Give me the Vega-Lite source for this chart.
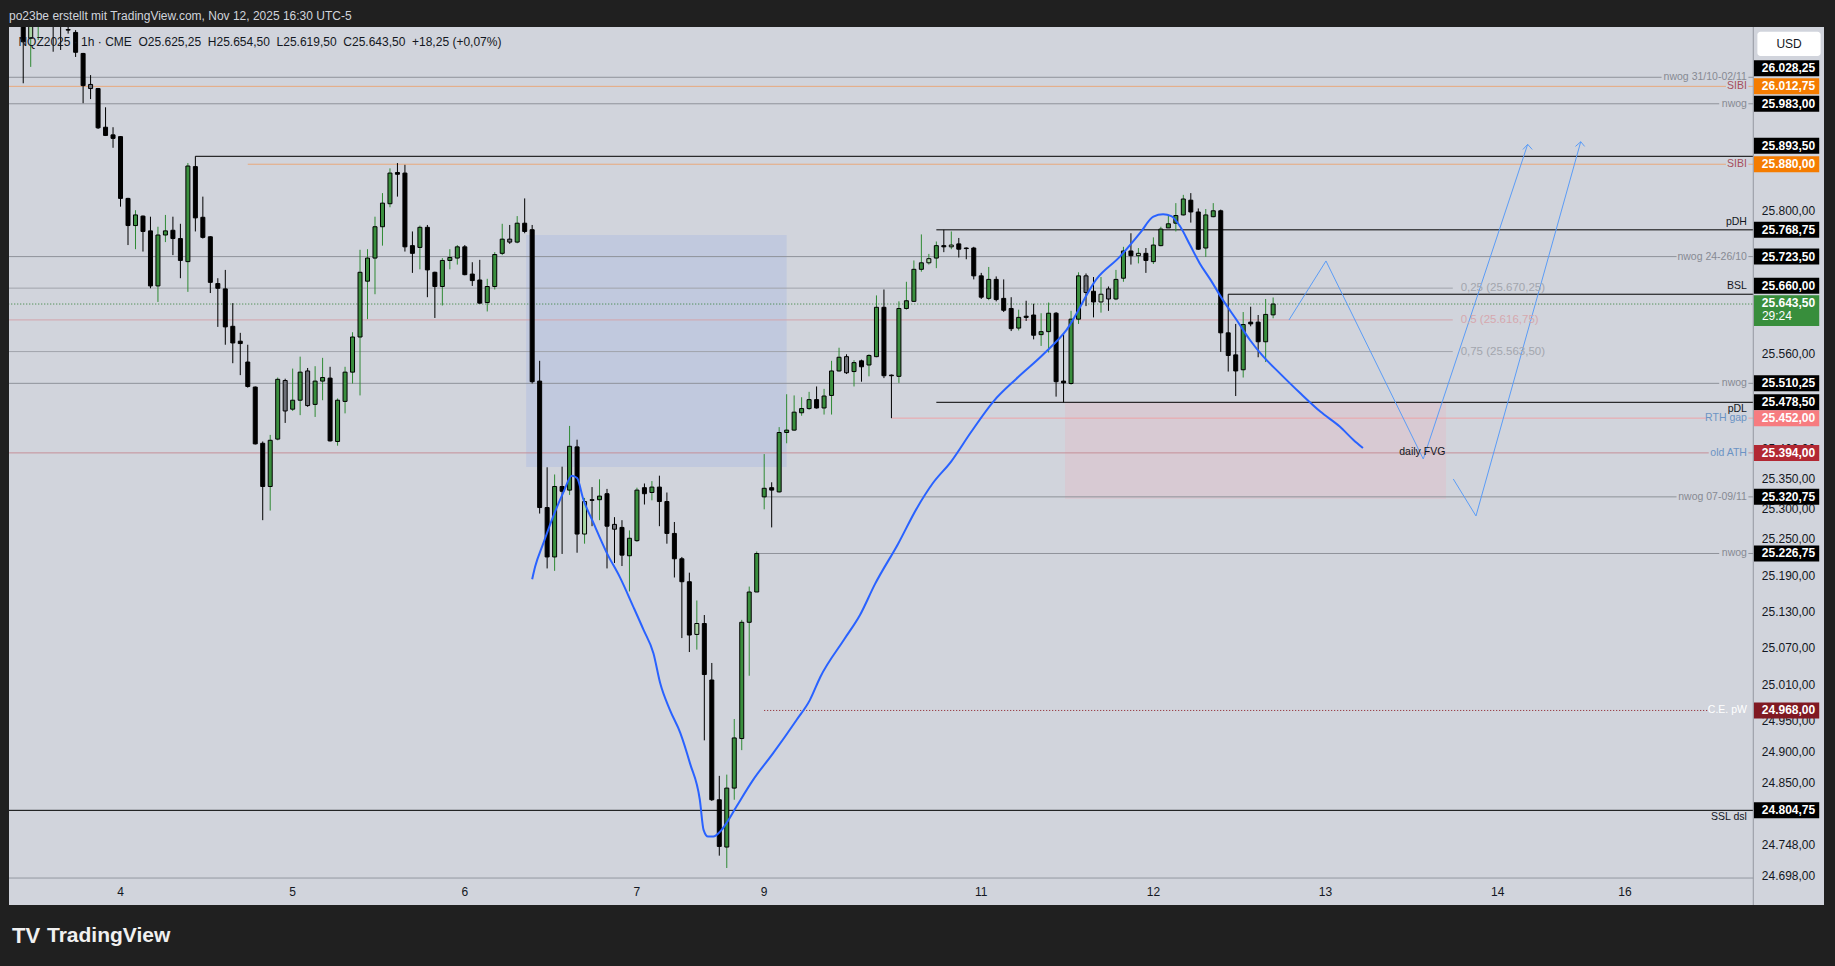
{
"$schema": "https://vega.github.io/schema/vega-lite/v6.json",
"width": 1815,
"height": 878,
"autosize": {"type": "none"},
"padding": {"left": 9, "top": 27, "right": 11, "bottom": 61},
"background": "#202020",
"config": {"view": {"stroke": null, "fill": "#d1d4dc"}, "font": "Liberation Sans", "scale": {"continuousPadding": 0}},
"title": {"text": "po23be erstellt mit TradingView.com, Nov 12, 2025 16:30 UTC-5", "anchor": "start", "frame": "group", "fontSize": 12, "fontWeight": "normal", "font": "Liberation Sans", "color": "#d1d4dc", "offset": 4},
"datasets": {
"candles": [
{"i":-13,"o":26126,"h":26140,"l":26018,"c":26089,"k":"d"},
{"i":-12,"o":26095,"h":26135,"l":26046,"c":26122,"k":"p"},
{"i":-11,"o":26125,"h":26145,"l":26092,"c":26135,"k":"u"},
{"i":-10,"o":26150,"h":26160,"l":26125,"c":26135,"k":"d"},
{"i":-9,"o":26160,"h":26170,"l":26072,"c":26128,"k":"d"},
{"i":-8,"o":26140,"h":26150,"l":26075,"c":26122,"k":"d"},
{"i":-7,"o":26110,"h":26116,"l":26103,"c":26109,"k":"d"},
{"i":-6,"o":26105,"h":26109,"l":26063,"c":26071,"k":"d"},
{"i":-5,"o":26069,"h":26070,"l":25984,"c":26014,"k":"d"},
{"i":-4,"o":26016,"h":26032,"l":25991,"c":26009,"k":"g"},
{"i":-3,"o":26009,"h":26010,"l":25940,"c":25942,"k":"d"},
{"i":-2,"o":25943,"h":25977,"l":25928,"c":25929,"k":"d"},
{"i":-1,"o":25930,"h":25943,"l":25908,"c":25924,"k":"d"},
{"i":0,"o":25927,"h":25928,"l":25808,"c":25822,"k":"d"},
{"i":1,"o":25822,"h":25823,"l":25743,"c":25776,"k":"d"},
{"i":2,"o":25776,"h":25802,"l":25736,"c":25794,"k":"u"},
{"i":3,"o":25792,"h":25793,"l":25732,"c":25766,"k":"d"},
{"i":4,"o":25767,"h":25791,"l":25670,"c":25674,"k":"d"},
{"i":5,"o":25674,"h":25774,"l":25647,"c":25760,"k":"u"},
{"i":6,"o":25760,"h":25794,"l":25748,"c":25767,"k":"u"},
{"i":7,"o":25768,"h":25791,"l":25726,"c":25754,"k":"d"},
{"i":8,"o":25754,"h":25779,"l":25687,"c":25717,"k":"d"},
{"i":9,"o":25715,"h":25882,"l":25664,"c":25877,"k":"u"},
{"i":10,"o":25876,"h":25893.5,"l":25766,"c":25789,"k":"d"},
{"i":11,"o":25790,"h":25825,"l":25754,"c":25756,"k":"d"},
{"i":12,"o":25757,"h":25758,"l":25662,"c":25680,"k":"d"},
{"i":13,"o":25678,"h":25687,"l":25605,"c":25670,"k":"d"},
{"i":14,"o":25669,"h":25701,"l":25575,"c":25605,"k":"d"},
{"i":15,"o":25606,"h":25645,"l":25544,"c":25578,"k":"d"},
{"i":16,"o":25581,"h":25595,"l":25524,"c":25577,"k":"d"},
{"i":17,"o":25546,"h":25575,"l":25503,"c":25505,"k":"d"},
{"i":18,"o":25504,"h":25505,"l":25408,"c":25409,"k":"d"},
{"i":19,"o":25410,"h":25413,"l":25282,"c":25338,"k":"d"},
{"i":20,"o":25338,"h":25424,"l":25298,"c":25415,"k":"u"},
{"i":21,"o":25417,"h":25520,"l":25415,"c":25517,"k":"u"},
{"i":22,"o":25515,"h":25518,"l":25444,"c":25464,"k":"g"},
{"i":23,"o":25467,"h":25535,"l":25464,"c":25482,"k":"u"},
{"i":24,"o":25482,"h":25555,"l":25457,"c":25529,"k":"u"},
{"i":25,"o":25531,"h":25536,"l":25471,"c":25473,"k":"g"},
{"i":26,"o":25475,"h":25539,"l":25454,"c":25514,"k":"u"},
{"i":27,"o":25514,"h":25553,"l":25482,"c":25520,"k":"u"},
{"i":28,"o":25519,"h":25538,"l":25413,"c":25414,"k":"d"},
{"i":29,"o":25413,"h":25485,"l":25406,"c":25482,"k":"u"},
{"i":30,"o":25480,"h":25538,"l":25460,"c":25529,"k":"u"},
{"i":31,"o":25529,"h":25596,"l":25510,"c":25588,"k":"u"},
{"i":32,"o":25588,"h":25735,"l":25490,"c":25697,"k":"u"},
{"i":33,"o":25682,"h":25736,"l":25618,"c":25721,"k":"u"},
{"i":34,"o":25721,"h":25791,"l":25660,"c":25774,"k":"u"},
{"i":35,"o":25774,"h":25831,"l":25742,"c":25814,"k":"u"},
{"i":36,"o":25813,"h":25873,"l":25807,"c":25865,"k":"u"},
{"i":37,"o":25866,"h":25882,"l":25825,"c":25863,"k":"d"},
{"i":38,"o":25865,"h":25879,"l":25732,"c":25740,"k":"d"},
{"i":39,"o":25742,"h":25766,"l":25696,"c":25729,"k":"d"},
{"i":40,"o":25739,"h":25776,"l":25702,"c":25773,"k":"u"},
{"i":41,"o":25773,"h":25777,"l":25655,"c":25701,"k":"d"},
{"i":42,"o":25697,"h":25698,"l":25620,"c":25673,"k":"d"},
{"i":43,"o":25673,"h":25721,"l":25641,"c":25717,"k":"u"},
{"i":44,"o":25717,"h":25736,"l":25702,"c":25722,"k":"u"},
{"i":45,"o":25721,"h":25743,"l":25710,"c":25740,"k":"u"},
{"i":46,"o":25740,"h":25743,"l":25692,"c":25693,"k":"d"},
{"i":47,"o":25694,"h":25714,"l":25674,"c":25683,"k":"d"},
{"i":48,"o":25684,"h":25718,"l":25644,"c":25645,"k":"d"},
{"i":49,"o":25646,"h":25686,"l":25631,"c":25673,"k":"u"},
{"i":50,"o":25673,"h":25731,"l":25668,"c":25727,"k":"u"},
{"i":51,"o":25729,"h":25779,"l":25726,"c":25753,"k":"u"},
{"i":52,"o":25753,"h":25777,"l":25745,"c":25748,"k":"g"},
{"i":53,"o":25748,"h":25792,"l":25746,"c":25780,"k":"u"},
{"i":54,"o":25780,"h":25822,"l":25763,"c":25766,"k":"d"},
{"i":55,"o":25769,"h":25777,"l":25510,"c":25513,"k":"d"},
{"i":56,"o":25514,"h":25548,"l":25293,"c":25303,"k":"d"},
{"i":57,"o":25303,"h":25370,"l":25202,"c":25221,"k":"d"},
{"i":58,"o":25221,"h":25358,"l":25198,"c":25338,"k":"u"},
{"i":59,"o":25338,"h":25371,"l":25226,"c":25330,"k":"d"},
{"i":60,"o":25332,"h":25439,"l":25324,"c":25405,"k":"u"},
{"i":61,"o":25404,"h":25416,"l":25228,"c":25259,"k":"d"},
{"i":62,"o":25259,"h":25319,"l":25243,"c":25313,"k":"p"},
{"i":63,"o":25316,"h":25337,"l":25272,"c":25315,"k":"d"},
{"i":64,"o":25316,"h":25350,"l":25282,"c":25322,"k":"u"},
{"i":65,"o":25326,"h":25334,"l":25202,"c":25272,"k":"d"},
{"i":66,"o":25275,"h":25287,"l":25211,"c":25267,"k":"g"},
{"i":67,"o":25270,"h":25282,"l":25206,"c":25224,"k":"d"},
{"i":68,"o":25223,"h":25265,"l":25164,"c":25252,"k":"u"},
{"i":69,"o":25248,"h":25336,"l":25246,"c":25332,"k":"u"},
{"i":70,"o":25336,"h":25343,"l":25308,"c":25326,"k":"d"},
{"i":71,"o":25328,"h":25347,"l":25315,"c":25337,"k":"u"},
{"i":72,"o":25337,"h":25356,"l":25272,"c":25313,"k":"d"},
{"i":73,"o":25313,"h":25328,"l":25243,"c":25260,"k":"d"},
{"i":74,"o":25260,"h":25279,"l":25187,"c":25218,"k":"d"},
{"i":75,"o":25218,"h":25221,"l":25087,"c":25180,"k":"d"},
{"i":76,"o":25180,"h":25195,"l":25064,"c":25092,"k":"d"},
{"i":77,"o":25093,"h":25149,"l":25068,"c":25111,"k":"p"},
{"i":78,"o":25111,"h":25125,"l":24919,"c":25027,"k":"d"},
{"i":79,"o":25018,"h":25046,"l":24820,"c":24822,"k":"d"},
{"i":80,"o":24822,"h":24861,"l":24731,"c":24746,"k":"d"},
{"i":81,"o":24745,"h":24863,"l":24711,"c":24841,"k":"u"},
{"i":82,"o":24841,"h":24954,"l":24822,"c":24923,"k":"u"},
{"i":83,"o":24922,"h":25117,"l":24903,"c":25113,"k":"u"},
{"i":84,"o":25113,"h":25172,"l":25025,"c":25163,"k":"u"},
{"i":85,"o":25163,"h":25230,"l":25163,"c":25226.75,"k":"u"},
{"i":86,"o":25320.75,"h":25392,"l":25300,"c":25335,"k":"u"},
{"i":87,"o":25336,"h":25345,"l":25270,"c":25332,"k":"d"},
{"i":88,"o":25329,"h":25437,"l":25328,"c":25428,"k":"u"},
{"i":89,"o":25428,"h":25492,"l":25410,"c":25432,"k":"u"},
{"i":90,"o":25432,"h":25490,"l":25431,"c":25462,"k":"u"},
{"i":91,"o":25461,"h":25487,"l":25456,"c":25468,"k":"u"},
{"i":92,"o":25468,"h":25496,"l":25466,"c":25483,"k":"u"},
{"i":93,"o":25483,"h":25505,"l":25468,"c":25469,"k":"d"},
{"i":94,"o":25469,"h":25501,"l":25458,"c":25489,"k":"u"},
{"i":95,"o":25490,"h":25548,"l":25458,"c":25531,"k":"u"},
{"i":96,"o":25531,"h":25570,"l":25530,"c":25554,"k":"u"},
{"i":97,"o":25555,"h":25559,"l":25526,"c":25528,"k":"g"},
{"i":98,"o":25530,"h":25549,"l":25505,"c":25545,"k":"u"},
{"i":99,"o":25548,"h":25550,"l":25513,"c":25538,"k":"d"},
{"i":100,"o":25541,"h":25559,"l":25522,"c":25557,"k":"u"},
{"i":101,"o":25555,"h":25658,"l":25554,"c":25638,"k":"u"},
{"i":102,"o":25638,"h":25668,"l":25519,"c":25523,"k":"d"},
{"i":103,"o":25524,"h":25525,"l":25452,"c":25523,"k":"d"},
{"i":104,"o":25522,"h":25648,"l":25511,"c":25636,"k":"u"},
{"i":105,"o":25636,"h":25681,"l":25634,"c":25649,"k":"u"},
{"i":106,"o":25648,"h":25717,"l":25647,"c":25702,"k":"u"},
{"i":107,"o":25702,"h":25761,"l":25698,"c":25713,"k":"u"},
{"i":108,"o":25713,"h":25728,"l":25710,"c":25720,"k":"p"},
{"i":109,"o":25721,"h":25749,"l":25704,"c":25742,"k":"u"},
{"i":110,"o":25742,"h":25768.75,"l":25731,"c":25740,"k":"d"},
{"i":111,"o":25740,"h":25766,"l":25736,"c":25743,"k":"p"},
{"i":112,"o":25745,"h":25755,"l":25722,"c":25736,"k":"d"},
{"i":113,"o":25738,"h":25739,"l":25719,"c":25737,"k":"d"},
{"i":114,"o":25738,"h":25740,"l":25685,"c":25691,"k":"d"},
{"i":115,"o":25691,"h":25696,"l":25652,"c":25655,"k":"d"},
{"i":116,"o":25653,"h":25706,"l":25650,"c":25685,"k":"u"},
{"i":117,"o":25685,"h":25690,"l":25648,"c":25651,"k":"d"},
{"i":118,"o":25653,"h":25685,"l":25630,"c":25633,"k":"d"},
{"i":119,"o":25636,"h":25655,"l":25598,"c":25602,"k":"d"},
{"i":120,"o":25603,"h":25634,"l":25599,"c":25621,"k":"u"},
{"i":121,"o":25623,"h":25649,"l":25615,"c":25621,"k":"d"},
{"i":122,"o":25625,"h":25644,"l":25584,"c":25591,"k":"d"},
{"i":123,"o":25592,"h":25628,"l":25573,"c":25597,"k":"u"},
{"i":124,"o":25597,"h":25646,"l":25562,"c":25628,"k":"u"},
{"i":125,"o":25628,"h":25630,"l":25488,"c":25513,"k":"d"},
{"i":126,"o":25514,"h":25593,"l":25478.5,"c":25511,"k":"d"},
{"i":127,"o":25510,"h":25632,"l":25508,"c":25618,"k":"u"},
{"i":128,"o":25618,"h":25697,"l":25610,"c":25691,"k":"u"},
{"i":129,"o":25691,"h":25695,"l":25640,"c":25663,"k":"g"},
{"i":130,"o":25665,"h":25689,"l":25621,"c":25647,"k":"d"},
{"i":131,"o":25647,"h":25689,"l":25629,"c":25660,"k":"p"},
{"i":132,"o":25669,"h":25673,"l":25632,"c":25652,"k":"g"},
{"i":133,"o":25652,"h":25701,"l":25650,"c":25685,"k":"u"},
{"i":134,"o":25687,"h":25740,"l":25681,"c":25733,"k":"u"},
{"i":135,"o":25733,"h":25763,"l":25710,"c":25725,"k":"d"},
{"i":136,"o":25725,"h":25738,"l":25712,"c":25729,"k":"p"},
{"i":137,"o":25729,"h":25738,"l":25696,"c":25717,"k":"d"},
{"i":138,"o":25715,"h":25756,"l":25711,"c":25743,"k":"u"},
{"i":139,"o":25742,"h":25774,"l":25741,"c":25770,"k":"u"},
{"i":140,"o":25772,"h":25794,"l":25772,"c":25779,"k":"u"},
{"i":141,"o":25780,"h":25814,"l":25766,"c":25793,"k":"u"},
{"i":142,"o":25794,"h":25828,"l":25793,"c":25821,"k":"u"},
{"i":143,"o":25819,"h":25831,"l":25781,"c":25799,"k":"d"},
{"i":144,"o":25799,"h":25805,"l":25735,"c":25736,"k":"d"},
{"i":145,"o":25738,"h":25804,"l":25723,"c":25794,"k":"u"},
{"i":146,"o":25791,"h":25814,"l":25790,"c":25801,"k":"u"},
{"i":147,"o":25801,"h":25803,"l":25563,"c":25595,"k":"d"},
{"i":148,"o":25595,"h":25660,"l":25530,"c":25557,"k":"d"},
{"i":149,"o":25558,"h":25610,"l":25489,"c":25531,"k":"d"},
{"i":150,"o":25533,"h":25630,"l":25520,"c":25609,"k":"u"},
{"i":151,"o":25613,"h":25639,"l":25606,"c":25610,"k":"d"},
{"i":152,"o":25613,"h":25625,"l":25554,"c":25580,"k":"d"},
{"i":153,"o":25580,"h":25652,"l":25546,"c":25626,"k":"u"},
{"i":154,"o":25625.25,"h":25654.5,"l":25619.5,"c":25643.5,"k":"u"}
],
"ma": [
{"i":55.0,"p":25184},{"i":55.4,"p":25205},{"i":56.5,"p":25244},{"i":57.8,"p":25288},{"i":59.2,"p":25329},{"i":60.3,"p":25356},{"i":61.0,"p":25352},{"i":61.8,"p":25318},{"i":63.2,"p":25277},{"i":65.0,"p":25227},{"i":66.7,"p":25188},{"i":68.5,"p":25139},{"i":69.9,"p":25100},{"i":71.2,"p":25062},{"i":72.1,"p":25013},{"i":73.4,"p":24969},{"i":74.8,"p":24931},{"i":76.1,"p":24881},{"i":77.4,"p":24822},{"i":77.9,"p":24773},{"i":78.5,"p":24762},{"i":79.2,"p":24762},{"i":80.1,"p":24770},{"i":80.8,"p":24781},{"i":82.3,"p":24811},{"i":84.5,"p":24854},{"i":87.2,"p":24898},{"i":90.3,"p":24952},{"i":92.1,"p":24985},{"i":93.5,"p":25023},{"i":96.7,"p":25085},{"i":98.8,"p":25125},{"i":100.8,"p":25176},{"i":103.9,"p":25243},{"i":106.4,"p":25302},{"i":108.5,"p":25343},{"i":111.0,"p":25380},{"i":113.6,"p":25428},{"i":116.7,"p":25481},{"i":119.7,"p":25518},{"i":123.3,"p":25559},{"i":126.4,"p":25600},{"i":130.5,"p":25687},{"i":133.5,"p":25723},{"i":136.2,"p":25763},{"i":138.0,"p":25791},{"i":139.3,"p":25795},{"i":140.4,"p":25792},{"i":141.6,"p":25774},{"i":142.9,"p":25743},{"i":144.2,"p":25712},{"i":145.6,"p":25685},{"i":147.3,"p":25650},{"i":149.1,"p":25617},{"i":150.9,"p":25583},{"i":152.7,"p":25555},{"i":154.9,"p":25527},{"i":157.6,"p":25494},{"i":160.3,"p":25463},{"i":162.9,"p":25438},{"i":164.7,"p":25416},{"i":166.0,"p":25402}
],
"levels": [
{"p":26028.25,"a":-15,"b":205.9,"s":"gray"},
{"p":26012.75,"a":-15,"b":214.5,"s":"orange"},
{"p":25983,"a":-15,"b":213.6,"s":"gray"},
{"p":25893.5,"a":10,"b":218.15,"s":"black"},
{"p":25880,"a":17,"b":214.5,"s":"orange"},
{"p":25768.75,"a":109,"b":218.15,"s":"black"},
{"p":25723.5,"a":-15,"b":207.9,"s":"gray"},
{"p":25670.25,"a":-15,"b":178,"s":"fibg"},
{"p":25660,"a":148,"b":218.15,"s":"black"},
{"p":25616.75,"a":-15,"b":178,"s":"fibr"},
{"p":25563.5,"a":-15,"b":178,"s":"fibg"},
{"p":25510.25,"a":-15,"b":213.6,"s":"gray"},
{"p":25478.5,"a":109,"b":218.15,"s":"black"},
{"p":25452,"a":103,"b":211.9,"s":"rth"},
{"p":25394,"a":-15,"b":212.2,"s":"ath"},
{"p":25320.75,"a":86,"b":207.9,"s":"gray"},
{"p":25226.75,"a":85,"b":213.6,"s":"gray"},
{"p":24804.75,"a":-15,"b":218.15,"s":"black"}
],
"tails": [
{"p":26028.25,"s":"gray"},{"p":26012.75,"s":"orange"},{"p":25983,"s":"gray"},{"p":25880,"s":"orange"},{"p":25723.5,"s":"gray"},{"p":25510.25,"s":"gray"},{"p":25452,"s":"rth"},{"p":25394,"s":"ath"},{"p":25320.75,"s":"gray"},{"p":25226.75,"s":"gray"}
],
"dotted": [
{"p":25643.5,"a":-15,"b":218.15,"s":"cur"},
{"p":24968,"a":86,"b":212.0,"s":"ce"}
],
"notes": [
{"p":26028.25,"t":"nwog 31/10-02/11","r":"n","v":"m"},
{"p":26012.75,"t":"SIBI","r":"s","v":"m"},
{"p":25983,"t":"nwog","r":"n","v":"m"},
{"p":25880,"t":"SIBI","r":"s","v":"m"},
{"p":25768.75,"t":"pDH","r":"b","v":"u"},
{"p":25723.5,"t":"nwog 24-26/10","r":"n","v":"m"},
{"p":25660,"t":"BSL","r":"b","v":"u"},
{"p":25510.25,"t":"nwog","r":"n","v":"m"},
{"p":25478.5,"t":"pDL","r":"b","v":"d"},
{"p":25452,"t":"RTH gap","r":"t","v":"m"},
{"p":25394,"t":"old ATH","r":"t","v":"m"},
{"p":25320.75,"t":"nwog 07-09/11","r":"n","v":"m"},
{"p":25226.75,"t":"nwog","r":"n","v":"m"},
{"p":24968,"t":"C.E. pW","r":"w","v":"m"},
{"p":24804.75,"t":"SSL dsl","r":"b","v":"d"}
],
"boxes": [
{"p":26028.25,"at":26043.6,"t":"26.028,25","r":"blk"},
{"p":26012.75,"at":26012.75,"t":"26.012,75","r":"org"},
{"p":25983,"at":25983,"t":"25.983,00","r":"blk"},
{"p":25893.5,"at":25911.5,"t":"25.893,50","r":"blk"},
{"p":25880,"at":25880,"t":"25.880,00","r":"org"},
{"p":25768.75,"at":25768.75,"t":"25.768,75","r":"blk"},
{"p":25723.5,"at":25723.5,"t":"25.723,50","r":"blk"},
{"p":25660,"at":25674.4,"t":"25.660,00","r":"blk"},
{"p":25510.25,"at":25510.25,"t":"25.510,25","r":"blk"},
{"p":25478.5,"at":25478.5,"t":"25.478,50","r":"blk"},
{"p":25452,"at":25452,"t":"25.452,00","r":"pink"},
{"p":25394,"at":25394,"t":"25.394,00","r":"ath"},
{"p":25320.75,"at":25320.75,"t":"25.320,75","r":"blk"},
{"p":25226.75,"at":25226.75,"t":"25.226,75","r":"blk"},
{"p":24968,"at":24968,"t":"24.968,00","r":"ce"},
{"p":24804.75,"at":24804.75,"t":"24.804,75","r":"blk"}
],
"ticks": [
{"p":25800,"t":"25.800,00"},{"p":25560,"t":"25.560,00"},{"p":25400,"t":"25.400,00"},{"p":25350,"t":"25.350,00"},{"p":25300,"t":"25.300,00"},{"p":25250,"t":"25.250,00"},{"p":25190,"t":"25.190,00"},{"p":25130,"t":"25.130,00"},{"p":25070,"t":"25.070,00"},{"p":25010,"t":"25.010,00"},{"p":24950,"t":"24.950,00"},{"p":24900,"t":"24.900,00"},{"p":24850,"t":"24.850,00"},{"p":24748,"t":"24.748,00"},{"p":24698,"t":"24.698,00"}
],
"days": [
{"i":0,"t":"4"},{"i":23,"t":"5"},{"i":46,"t":"6"},{"i":69,"t":"7"},{"i":86,"t":"9"},{"i":115,"t":"11"},{"i":138,"t":"12"},{"i":161,"t":"13"},{"i":184,"t":"14"},{"i":201,"t":"16"}
],
"fib": [
{"p":25670.25,"t":"0,25 (25.670,25)","r":"g"},
{"p":25616.75,"t":"0,5 (25.616,75)","r":"r"},
{"p":25563.5,"t":"0,75 (25.563,50)","r":"g"}
],
"zones": [
{"a":54.2,"b":89.0,"top":25760,"bot":25370.3,"z":"ob"},
{"a":126.2,"b":177.1,"top":25478.5,"bot":25317,"z":"fvg"}
],
"proj": [
{"i":156.12,"p":25616.7,"g":"z1","o":0},{"i":161.06,"p":25716.1,"g":"z1","o":1},{"i":174.06,"p":25383.8,"g":"z1","o":2},{"i":188.01,"p":25913.9,"g":"z1","o":3},
{"i":178.07,"p":25350.5,"g":"z2","o":0},{"i":181.1,"p":25289.0,"g":"z2","o":1},{"i":195.1,"p":25918.3,"g":"z2","o":2},
{"i":187.37,"p":25905.1,"g":"a1","o":0},{"i":188.01,"p":25913.9,"g":"a1","o":1},{"i":188.62,"p":25905.1,"g":"a1","o":2},
{"i":194.39,"p":25910.3,"g":"a2","o":0},{"i":195.1,"p":25918.3,"g":"a2","o":1},{"i":195.62,"p":25910.3,"g":"a2","o":2}
],
"one": [{"n": 1}]
},
"layer": [
{"data": {"name": "zones"}, "mark": {"type": "rect"},
 "encoding": {
  "x": {"field": "a", "type": "quantitative", "scale": {"domain": [-14.9, 227.6], "nice": false, "zero": false, "padding": 0}, "axis": null},
  "x2": {"field": "b"},
  "y": {"field": "top", "type": "quantitative", "scale": {"type": "log", "domain": [24651.0, 26114.35], "nice": false, "zero": false, "padding": 0}, "axis": null},
  "y2": {"field": "bot"},
  "fill": {"field": "z", "type": "nominal", "scale": {"domain": ["ob", "fvg"], "range": ["#c1c9de", "#d8cad3"]}, "legend": null}}},
{"data": {"name": "levels"}, "mark": {"type": "rule", "strokeWidth": 1, "clip": true},
 "encoding": {
  "x": {"field": "a", "type": "quantitative", "scale": {"domain": [-14.9, 227.6], "nice": false, "zero": false, "padding": 0}, "axis": null},
  "x2": {"field": "b"},
  "y": {"field": "p", "type": "quantitative", "scale": {"type": "log", "domain": [24651.0, 26114.35], "nice": false, "zero": false, "padding": 0}, "axis": null},
  "color": {"field": "s", "type": "nominal", "scale": {"domain": ["gray", "black", "orange", "rth", "ath", "fibg", "fibr"], "range": ["#8f929a", "#000000", "#e8a87c", "#eca3a9", "#c58f98", "#a0a3ab", "#d3a5ab"]}, "legend": null}}},
{"data": {"name": "tails"}, "mark": {"type": "rule", "strokeWidth": 1},
 "encoding": {
  "x": {"datum": 217.5, "type": "quantitative", "axis": null},
  "x2": {"datum": 218.15},
  "y": {"field": "p", "type": "quantitative", "axis": null},
  "color": {"field": "s", "type": "nominal", "scale": {"domain": ["gray", "orange", "rth", "ath"], "range": ["#8f929a", "#e8a87c", "#eca3a9", "#c58f98"]}, "legend": null}}},
{"data": {"name": "dotted"}, "mark": {"type": "rule", "strokeWidth": 1, "strokeDash": [1, 2], "clip": true},
 "encoding": {
  "x": {"field": "a", "type": "quantitative", "scale": {"domain": [-14.9, 227.6], "nice": false, "zero": false, "padding": 0}, "axis": null},
  "x2": {"field": "b"},
  "y": {"field": "p", "type": "quantitative", "scale": {"type": "log", "domain": [24651.0, 26114.35], "nice": false, "zero": false, "padding": 0}, "axis": null},
  "color": {"field": "s", "type": "nominal", "scale": {"domain": ["cur", "ce"], "range": ["#2e7d32", "#8b1a22"]}, "legend": null}}},
{"data": {"name": "candles"}, "mark": {"type": "rule", "strokeWidth": 1, "clip": true},
 "encoding": {
  "x": {"field": "i", "type": "quantitative", "scale": {"domain": [-14.9, 227.6], "nice": false, "zero": false, "padding": 0}, "axis": null},
  "y": {"field": "l", "type": "quantitative", "scale": {"type": "log", "domain": [24651.0, 26114.35], "nice": false, "zero": false, "padding": 0}, "axis": null},
  "y2": {"field": "h"},
  "color": {"field": "k", "type": "nominal", "scale": {"domain": ["u", "d", "g", "p"], "range": ["#2f8a34", "#000000", "#000000", "#2f8a34"]}, "legend": null}}},
{"data": {"name": "candles"}, "mark": {"type": "bar", "size": 4, "stroke": "#000000", "strokeWidth": 1, "clip": true},
 "encoding": {
  "x": {"field": "i", "type": "quantitative", "scale": {"domain": [-14.9, 227.6], "nice": false, "zero": false, "padding": 0}, "axis": null},
  "y": {"field": "o", "type": "quantitative", "scale": {"type": "log", "domain": [24651.0, 26114.35], "nice": false, "zero": false, "padding": 0}, "axis": null},
  "y2": {"field": "c"},
  "fill": {"field": "k", "type": "nominal", "scale": {"domain": ["u", "d", "g", "p"], "range": ["#3a8f3e", "#000000", "#6e7078", "#a8d5a2"]}, "legend": null}}},
{"data": {"name": "ma"}, "mark": {"type": "line", "color": "#2962ff", "strokeWidth": 2, "interpolate": "monotone"},
 "encoding": {
  "x": {"field": "i", "type": "quantitative", "scale": {"domain": [-14.9, 227.6], "nice": false, "zero": false, "padding": 0}, "axis": null},
  "y": {"field": "p", "type": "quantitative", "scale": {"type": "log", "domain": [24651.0, 26114.35], "nice": false, "zero": false, "padding": 0}, "axis": null}}},
{"data": {"name": "proj"}, "mark": {"type": "line", "color": "#5b9cf6", "strokeWidth": 1},
 "encoding": {
  "x": {"field": "i", "type": "quantitative", "axis": null},
  "y": {"field": "p", "type": "quantitative", "axis": null},
  "detail": {"field": "g", "type": "nominal"},
  "order": {"field": "o", "type": "quantitative"}}},
{"data": {"name": "fib"}, "mark": {"type": "text", "align": "left", "baseline": "middle", "fontSize": 11.5, "font": "Liberation Sans"},
 "encoding": {
  "x": {"datum": 179.05, "type": "quantitative", "axis": null},
  "y": {"field": "p", "type": "quantitative", "axis": null},
  "text": {"field": "t", "type": "nominal"},
  "color": {"field": "r", "type": "nominal", "scale": {"domain": ["g", "r"], "range": ["#a3a6ae", "#d6a8ae"]}, "legend": null}}},
{"data": {"name": "one"}, "mark": {"type": "text", "align": "left", "baseline": "middle", "fontSize": 10.5, "font": "Liberation Sans", "color": "#131722", "text": "daily FVG"},
 "encoding": {"x": {"datum": 170.85, "type": "quantitative", "axis": null}, "y": {"datum": 25396, "type": "quantitative", "axis": null}}},
{"data": {"name": "one"}, "mark": {"type": "text", "align": "left", "baseline": "middle", "fontSize": 12, "font": "Liberation Sans", "color": "#131722", "text": "NQZ2025 · 1h · CME\u00a0\u00a0O25.625,25\u00a0\u00a0H25.654,50\u00a0\u00a0L25.619,50\u00a0\u00a0C25.643,50\u00a0\u00a0+18,25 (+0,07%)"},
 "encoding": {"x": {"datum": -13.64, "type": "quantitative", "axis": null}, "y": {"datum": 26089.1, "type": "quantitative", "axis": null}}},
{"data": {"name": "notes"}, "transform": [{"filter": "datum.v == 'm'"}], "mark": {"type": "text", "align": "right", "baseline": "middle", "fontSize": 10.5, "font": "Liberation Sans"},
 "encoding": {
  "x": {"datum": 217.3, "type": "quantitative", "axis": null},
  "y": {"field": "p", "type": "quantitative", "axis": null},
  "text": {"field": "t", "type": "nominal"},
  "color": {"field": "r", "type": "nominal", "scale": {"domain": ["n", "s", "b", "t", "w"], "range": ["#878a93", "#a64d5b", "#131722", "#6b93c4", "#ffffff"]}, "legend": null}}},
{"data": {"name": "notes"}, "transform": [{"filter": "datum.v == 'u'"}], "mark": {"type": "text", "align": "right", "baseline": "alphabetic", "dy": -5, "fontSize": 10.5, "font": "Liberation Sans", "color": "#131722"},
 "encoding": {
  "x": {"datum": 217.3, "type": "quantitative", "axis": null},
  "y": {"field": "p", "type": "quantitative", "axis": null},
  "text": {"field": "t", "type": "nominal"}}},
{"data": {"name": "notes"}, "transform": [{"filter": "datum.v == 'd'"}], "mark": {"type": "text", "align": "right", "baseline": "alphabetic", "dy": 10, "fontSize": 10.5, "font": "Liberation Sans", "color": "#131722"},
 "encoding": {
  "x": {"datum": 217.3, "type": "quantitative", "axis": null},
  "y": {"field": "p", "type": "quantitative", "axis": null},
  "text": {"field": "t", "type": "nominal"}}},
{"data": {"name": "one"}, "mark": {"type": "rule", "color": "#9598a1", "strokeWidth": 1},
 "encoding": {"x": {"datum": 218.15, "type": "quantitative", "axis": null}, "y": {"datum": 24651.0, "type": "quantitative", "axis": null}, "y2": {"datum": 26114.35}}},
{"data": {"name": "one"}, "mark": {"type": "rule", "color": "#9598a1", "strokeWidth": 1},
 "encoding": {"x": {"datum": -14.9, "type": "quantitative", "axis": null}, "x2": {"datum": 218.15}, "y": {"datum": 24694.7, "type": "quantitative", "axis": null}}},
{"data": {"name": "ticks"}, "mark": {"type": "text", "align": "center", "baseline": "middle", "fontSize": 12, "font": "Liberation Sans", "color": "#131722"},
 "encoding": {
  "x": {"datum": 222.86, "type": "quantitative", "axis": null},
  "y": {"field": "p", "type": "quantitative", "axis": null},
  "text": {"field": "t", "type": "nominal"}}},
{"data": {"name": "boxes"}, "mark": {"type": "bar", "orient": "horizontal", "size": 16},
 "encoding": {
  "x": {"datum": 218.24, "type": "quantitative", "axis": null},
  "x2": {"datum": 226.96},
  "y": {"field": "at", "type": "quantitative", "axis": null},
  "fill": {"field": "r", "type": "nominal", "scale": {"domain": ["blk", "org", "pink", "ath", "ce"], "range": ["#000000", "#f57c00", "#f77c80", "#b22833", "#801922"]}, "legend": null}}},
{"data": {"name": "boxes"}, "mark": {"type": "text", "align": "center", "baseline": "middle", "fontSize": 12, "fontWeight": "bold", "font": "Liberation Sans", "color": "#ffffff"},
 "encoding": {
  "x": {"datum": 222.86, "type": "quantitative", "axis": null},
  "y": {"field": "at", "type": "quantitative", "axis": null},
  "text": {"field": "t", "type": "nominal"}}},
{"data": {"name": "one"}, "mark": {"type": "rect", "color": "#388e3c"},
 "encoding": {"x": {"datum": 218.24, "type": "quantitative", "axis": null}, "x2": {"datum": 226.96}, "y": {"datum": 25658.2, "type": "quantitative", "axis": null}, "y2": {"datum": 25606.5}}},
{"data": {"name": "one"}, "mark": {"type": "text", "align": "center", "baseline": "middle", "fontSize": 12, "fontWeight": "bold", "font": "Liberation Sans", "color": "#ffffff", "text": "25.643,50"},
 "encoding": {"x": {"datum": 222.86, "type": "quantitative", "axis": null}, "y": {"datum": 25645.5, "type": "quantitative", "axis": null}}},
{"data": {"name": "one"}, "mark": {"type": "text", "align": "left", "baseline": "middle", "fontSize": 12, "font": "Liberation Sans", "color": "#ffffff", "text": "29:24"},
 "encoding": {"x": {"datum": 219.3, "type": "quantitative", "axis": null}, "y": {"datum": 25623.8, "type": "quantitative", "axis": null}}},
{"data": {"name": "one"}, "mark": {"type": "rect", "color": "#ffffff", "cornerRadius": 3},
 "encoding": {"x": {"datum": 218.7, "type": "quantitative", "axis": null}, "x2": {"datum": 227.15}, "y": {"datum": 26106.3, "type": "quantitative", "axis": null}, "y2": {"datum": 26064.6}}},
{"data": {"name": "one"}, "mark": {"type": "text", "align": "center", "baseline": "middle", "fontSize": 12, "font": "Liberation Sans", "color": "#131722", "text": "USD"},
 "encoding": {"x": {"datum": 222.93, "type": "quantitative", "axis": null}, "y": {"datum": 26085.5, "type": "quantitative", "axis": null}}},
{"data": {"name": "days"}, "mark": {"type": "text", "align": "center", "baseline": "middle", "fontSize": 12, "font": "Liberation Sans", "color": "#131722"},
 "encoding": {
  "x": {"field": "i", "type": "quantitative", "axis": null},
  "y": {"datum": 24672.8, "type": "quantitative", "axis": null},
  "text": {"field": "t", "type": "nominal"}}},
{"data": {"name": "one"}, "mark": {"type": "text", "align": "left", "baseline": "middle", "fontSize": 21, "fontWeight": "bold", "font": "Liberation Sans", "color": "#f0f0f0", "text": "TradingView"},
 "encoding": {"x": {"datum": -9.82, "type": "quantitative", "axis": null}, "y": {"datum": 24600.8, "type": "quantitative", "axis": null}}},
{"data": {"name": "one"}, "mark": {"type": "text", "align": "left", "baseline": "middle", "fontSize": 22, "fontWeight": 900, "font": "Liberation Sans", "color": "#f0f0f0", "text": "TV"},
 "encoding": {"x": {"datum": -14.5, "type": "quantitative", "axis": null}, "y": {"datum": 24600.8, "type": "quantitative", "axis": null}}}
],
"resolve": {"scale": {"color": "independent", "fill": "independent"}}
}
